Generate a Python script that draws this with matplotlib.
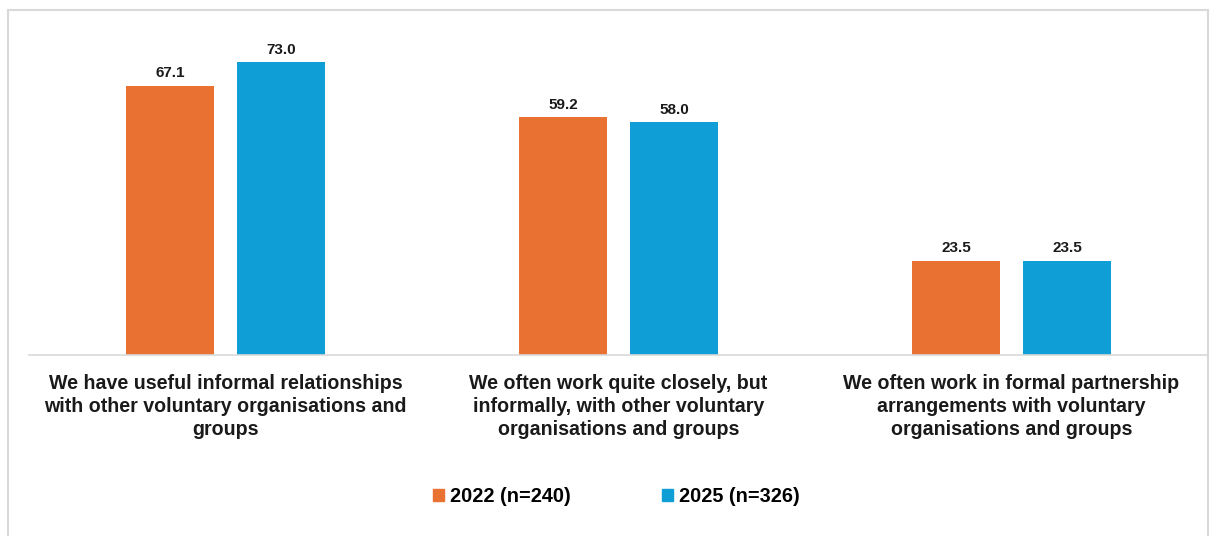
import matplotlib.pyplot as plt
from matplotlib.patches import Patch, Rectangle
import numpy as np

plt.rcParams['font.family'] = ['Liberation Sans', 'DejaVu Sans']

categories = [
    "We have useful informal relationships\nwith other voluntary organisations and\ngroups",
    "We often work quite closely, but\ninformally, with other voluntary\norganisations and groups",
    "We often work in formal partnership\narrangements with voluntary\norganisations and groups",
]
series_names = ["2022 (n=240)", "2025 (n=326)"]
values_2022 = [67.1, 59.2, 23.5]
values_2025 = [73.0, 58.0, 23.5]
colors = ["#E97132", "#0F9ED5"]

fig = plt.figure(figsize=(12.1, 5.36), dpi=100)
ax = fig.add_axes([29 / 1210, 181 / 536, 1179 / 1210, 321 / 536])

x = np.arange(len(categories))
w = 0.224
off = 0.141
b1 = ax.bar(x - off, values_2022, w, color=colors[0])
b2 = ax.bar(x + off, values_2025, w, color=colors[1])
for bars in (b1, b2):
    ax.bar_label(bars, fmt='%.1f', padding=4, fontsize=11, fontweight='bold', color='#1a1a1a')

ax.set_xlim(-0.5, 2.5)
ax.set_ylim(0, 80)
ax.set_yticks([])
ax.set_xticks(x)
ax.set_xticklabels(categories, fontsize=14.1, fontweight='bold', color='#1a1a1a', linespacing=1.25)
ax.tick_params(axis='x', length=0, pad=14)
for side in ['top', 'right', 'left']:
    ax.spines[side].set_visible(False)
ax.spines['bottom'].set_color('#D9D9D9')
ax.spines['bottom'].set_linewidth(1.2)

handles = [Patch(color=c) for c in colors]
fig.legend(handles, series_names, loc='center', bbox_to_anchor=(616 / 1210, 1 - 497 / 536),
           ncol=2, frameon=False, handlelength=0.55, handleheight=0.55, handletextpad=0.3,
           columnspacing=4.6, prop={'size': 14.3, 'weight': 'bold'})

# light frame around the chart area
fig.patches.append(Rectangle((8 / 1210, -0.05), 1200 / 1210, 1.05 - 10 / 536, transform=fig.transFigure,
                             fill=False, edgecolor='#D9D9D9', linewidth=1.5))

fig.savefig('out.png', dpi=100)
